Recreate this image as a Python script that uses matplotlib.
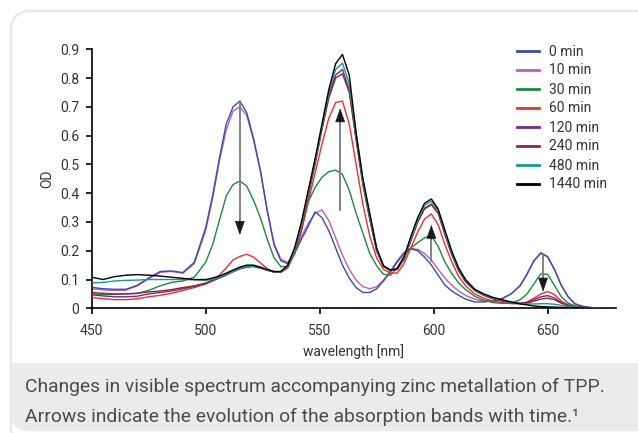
import matplotlib
matplotlib.use('Agg')
import matplotlib.pyplot as plt
from matplotlib.patches import FancyBboxPatch, Rectangle

plt.rcParams['font.family'] = ['Roboto', 'DejaVu Sans']

# wavelength grid [nm]
wavelength = [450, 455, 460, 465, 470, 475, 480, 485, 490, 495, 500,
              503, 506, 509, 512, 515, 518, 521, 524, 527, 530, 533, 536,
              539, 542, 545, 548, 551, 554, 557, 560, 563, 566, 569, 572,
              575, 578, 581, 584, 587, 590, 593, 596, 599, 602, 605, 608,
              611, 614, 618, 622, 626, 630, 634, 638, 641, 644, 647, 650,
              653, 656, 659, 662, 666, 670, 675, 678]

od_0 = [0.073, 0.068, 0.066, 0.066, 0.080, 0.105, 0.128, 0.130, 0.124, 0.160, 0.280,
        0.390, 0.520, 0.640, 0.700, 0.720, 0.680, 0.590, 0.480, 0.340, 0.220, 0.165, 0.155,
        0.190, 0.240, 0.285, 0.335, 0.315, 0.270, 0.210, 0.150, 0.105, 0.072, 0.055, 0.055,
        0.068, 0.095, 0.125, 0.160, 0.190, 0.207, 0.200, 0.178, 0.150, 0.115, 0.080, 0.060,
        0.045, 0.032, 0.022, 0.022, 0.026, 0.034, 0.050, 0.080, 0.120, 0.165, 0.193, 0.180,
        0.135, 0.080, 0.040, 0.015, 0.005, 0.002, 0.000, 0.000]
od_10 = [0.068, 0.064, 0.062, 0.063, 0.078, 0.103, 0.125, 0.128, 0.122, 0.155, 0.270,
         0.380, 0.510, 0.620, 0.685, 0.700, 0.670, 0.585, 0.475, 0.340, 0.225, 0.170, 0.160,
         0.195, 0.250, 0.295, 0.330, 0.342, 0.305, 0.245, 0.185, 0.135, 0.098, 0.075, 0.068,
         0.075, 0.098, 0.130, 0.165, 0.195, 0.208, 0.205, 0.190, 0.168, 0.135, 0.105, 0.080,
         0.060, 0.045, 0.032, 0.025, 0.026, 0.033, 0.050, 0.078, 0.118, 0.165, 0.190, 0.178,
         0.135, 0.080, 0.040, 0.016, 0.006, 0.002, 0.000, 0.000]
od_30 = [0.050, 0.048, 0.048, 0.050, 0.052, 0.062, 0.078, 0.090, 0.095, 0.108, 0.160,
         0.220, 0.305, 0.390, 0.430, 0.442, 0.425, 0.375, 0.315, 0.240, 0.175, 0.145, 0.145,
         0.190, 0.270, 0.370, 0.420, 0.455, 0.475, 0.480, 0.465, 0.410, 0.330, 0.260, 0.190,
         0.148, 0.118, 0.115, 0.140, 0.180, 0.210, 0.228, 0.245, 0.252, 0.215, 0.160, 0.120,
         0.088, 0.065, 0.042, 0.028, 0.020, 0.017, 0.018, 0.030, 0.050, 0.085, 0.120, 0.118,
         0.080, 0.040, 0.018, 0.008, 0.004, 0.001, 0.000, 0.000]
od_60 = [0.038, 0.033, 0.030, 0.030, 0.033, 0.040, 0.045, 0.052, 0.062, 0.072, 0.085,
         0.098, 0.115, 0.140, 0.168, 0.180, 0.188, 0.178, 0.158, 0.138, 0.125, 0.125, 0.140,
         0.190, 0.270, 0.370, 0.470, 0.570, 0.660, 0.715, 0.720, 0.640, 0.500, 0.360, 0.250,
         0.175, 0.135, 0.123, 0.122, 0.155, 0.210, 0.265, 0.310, 0.328, 0.290, 0.220, 0.160,
         0.110, 0.078, 0.050, 0.035, 0.025, 0.020, 0.016, 0.016, 0.022, 0.035, 0.050, 0.058,
         0.048, 0.025, 0.012, 0.006, 0.003, 0.001, 0.000, 0.000]
od_120 = [0.047, 0.043, 0.040, 0.040, 0.042, 0.050, 0.055, 0.060, 0.068, 0.076, 0.085,
          0.095, 0.105, 0.115, 0.127, 0.137, 0.143, 0.145, 0.140, 0.132, 0.127, 0.127, 0.145,
          0.200, 0.290, 0.400, 0.510, 0.630, 0.740, 0.810, 0.830, 0.760, 0.590, 0.430, 0.310,
          0.200, 0.145, 0.132, 0.135, 0.170, 0.235, 0.300, 0.345, 0.360, 0.330, 0.255, 0.185,
          0.130, 0.092, 0.062, 0.045, 0.033, 0.025, 0.020, 0.018, 0.020, 0.030, 0.040, 0.044,
          0.036, 0.020, 0.010, 0.005, 0.003, 0.001, 0.000, 0.000]
od_240 = [0.055, 0.052, 0.050, 0.050, 0.052, 0.057, 0.060, 0.065, 0.072, 0.078, 0.088,
          0.097, 0.107, 0.117, 0.128, 0.138, 0.145, 0.146, 0.140, 0.132, 0.126, 0.126, 0.143,
          0.198, 0.285, 0.390, 0.500, 0.620, 0.730, 0.800, 0.815, 0.750, 0.585, 0.430, 0.310,
          0.200, 0.145, 0.132, 0.135, 0.170, 0.235, 0.300, 0.348, 0.362, 0.332, 0.258, 0.188,
          0.133, 0.095, 0.064, 0.046, 0.034, 0.026, 0.020, 0.017, 0.018, 0.025, 0.032, 0.035,
          0.030, 0.018, 0.009, 0.005, 0.003, 0.001, 0.000, 0.000]
od_480 = [0.088, 0.090, 0.095, 0.097, 0.098, 0.100, 0.100, 0.100, 0.100, 0.099, 0.097,
          0.100, 0.108, 0.118, 0.128, 0.138, 0.145, 0.147, 0.142, 0.133, 0.127, 0.127, 0.145,
          0.200, 0.290, 0.400, 0.510, 0.630, 0.750, 0.830, 0.852, 0.780, 0.605, 0.440, 0.320,
          0.205, 0.148, 0.133, 0.137, 0.173, 0.240, 0.308, 0.358, 0.372, 0.340, 0.265, 0.193,
          0.137, 0.098, 0.066, 0.048, 0.036, 0.028, 0.021, 0.017, 0.015, 0.015, 0.016, 0.016,
          0.014, 0.010, 0.006, 0.004, 0.002, 0.001, 0.000, 0.000]
od_1440 = [0.108, 0.100, 0.110, 0.115, 0.117, 0.115, 0.112, 0.108, 0.104, 0.100, 0.100,
           0.105, 0.112, 0.122, 0.133, 0.143, 0.150, 0.150, 0.143, 0.135, 0.128, 0.128, 0.150,
           0.210, 0.300, 0.410, 0.520, 0.640, 0.760, 0.850, 0.882, 0.810, 0.610, 0.450, 0.330,
           0.210, 0.148, 0.133, 0.138, 0.178, 0.250, 0.315, 0.365, 0.380, 0.345, 0.270, 0.198,
           0.140, 0.100, 0.066, 0.050, 0.038, 0.030, 0.022, 0.015, 0.012, 0.008, 0.006, 0.005,
           0.004, 0.003, 0.002, 0.002, 0.001, 0.000, 0.000, 0.000]

labels = ['0 min', '10 min', '30 min', '60 min', '120 min', '240 min', '480 min', '1440 min']
colors = ['#3b4ca8', '#c25bb3', '#1b8a3c', '#ec2f2a', '#7d2590', '#8a2b2d', '#16999a', '#000000']
series = [od_0, od_10, od_30, od_60, od_120, od_240, od_480, od_1440]
# drawing order: 0 min sits on top of 10 min in the original
z_order = [3, 2, 3, 3, 3, 3, 3, 3]

# arrows: (wavelength, start OD, tip OD)
arrow_x = [515, 559, 599, 648]
arrow_from = [0.715, 0.34, 0.165, 0.185]
arrow_to = [0.255, 0.695, 0.29, 0.058]

W, H = 638, 433
fig = plt.figure(figsize=(W / 100, H / 100), dpi=100)
fig.patch.set_facecolor('white')

# background frame and caption panel (pixel coordinates)
bg = fig.add_axes([0, 0, 1, 1])
bg.set_xlim(0, W)
bg.set_ylim(H, 0)
bg.axis('off')
bg.add_patch(FancyBboxPatch((11, 11), 660, 440, boxstyle='round,pad=0,rounding_size=20',
                            facecolor='white', edgecolor='#e9e9e9', lw=1.8))
bg.add_patch(FancyBboxPatch((11, 320), 660, 111, boxstyle='round,pad=0,rounding_size=18',
                            facecolor='#ebebeb', edgecolor='none'))
bg.add_patch(Rectangle((12, 319), 660, 44, facecolor='white', edgecolor='none'))
bg.text(25, 387, 'Changes in visible spectrum accompanying zinc metallation of TPP.',
        fontsize=13.9, color='#4a4a4a', va='center', ha='left')
bg.text(25, 417, 'Arrows indicate the evolution of the absorption bands with time.\u00b9',
        fontsize=13.9, color='#4a4a4a', va='center', ha='left')

ax = fig.add_axes([91.7 / W, 1 - 308.3 / H, (616 - 91.7) / W, (308.3 - 49.3) / H])
ax.patch.set_alpha(0)

for y, c, lab, z in zip(series, colors, labels, z_order):
    ax.plot(wavelength, y, color=c, lw=1.0, label=lab, zorder=z)

for x, y0, y1 in zip(arrow_x, arrow_from, arrow_to):
    d = 1 if y1 > y0 else -1
    ax.plot([x, x], [y0, y1 - d * 0.03], color='#7a7a7a', lw=1.3, zorder=5)
    ax.annotate('', xy=(x, y1), xytext=(x, y1 - d * 0.05),
                arrowprops=dict(arrowstyle='-|>,head_length=0.9,head_width=0.32',
                                color='#1a1a1a', lw=0.5, shrinkA=0, shrinkB=0),
                zorder=6)

ax.set_xlim(450, 680)
ax.set_ylim(0, 0.9)
ax.set_xticks([450, 500, 550, 600, 650])
ax.set_yticks([0, 0.1, 0.2, 0.3, 0.4, 0.5, 0.6, 0.7, 0.8, 0.9])
ax.set_yticklabels(['0', '0.1', '0.2', '0.3', '0.4', '0.5', '0.6', '0.7', '0.8', '0.9'])
for s in ['top', 'right']:
    ax.spines[s].set_visible(False)
for s in ['left', 'bottom']:
    ax.spines[s].set_linewidth(1.2)
ax.tick_params(axis='both', direction='out', length=4, width=1.2, labelsize=10,
               labelcolor='#333333')
ax.tick_params(axis='x', pad=7)
ax.tick_params(axis='y', pad=5)
ax.set_xlabel('wavelength [nm]', fontsize=10, color='#333333', labelpad=5)
ax.set_ylabel('OD', fontsize=10, color='#333333', labelpad=4)

leg = ax.legend(loc='upper left', bbox_to_anchor=(516.7 / W, 1 - 44.5 / H),
                bbox_transform=fig.transFigure, frameon=False, fontsize=10,
                handlelength=1.6, handletextpad=0.75, labelspacing=0.36,
                borderpad=0, borderaxespad=0)
for t in leg.get_texts():
    t.set_color('#333333')
for h in leg.get_lines():
    h.set_linewidth(2)

plt.savefig('out.png', dpi=100, facecolor='white')
